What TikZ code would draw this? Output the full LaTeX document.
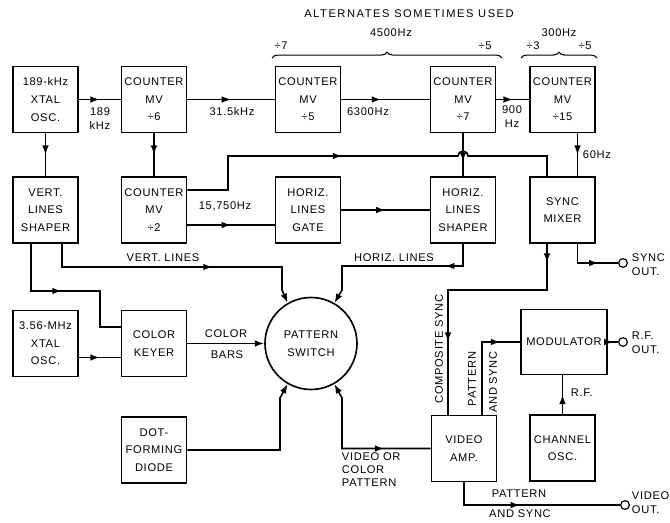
\documentclass[tikz,border=0pt]{standalone}
\usepackage{fontspec}
\setmainfont{Liberation Sans}[LetterSpace=6]
\usepackage{tikz}
\usetikzlibrary{arrows.meta,decorations.markings,decorations.pathreplacing,calc}

\begin{document}
\begin{tikzpicture}[
  x=0.03cm, y=-0.03cm, line width=1.4pt,
  every node/.style={font=\fontsize{9.5}{15}\selectfont},
  blk/.style={draw, minimum width=1.95cm, minimum height=1.98cm, align=center, inner sep=1pt},
  lbl/.style={align=center, inner sep=1pt, font=\fontsize{9.5}{12}\selectfont},
  jack/.style={draw, circle, inner sep=0pt, minimum size=2.6mm, line width=1pt},
  am/.style={postaction={decorate}, decoration={markings,
    mark=at position #1 with {\arrow{Latex[length=2.8mm,width=2mm]}}}},
  am/.default=0.5,
  amtwo/.style 2 args={postaction={decorate}, decoration={markings,
    mark=at position #1 with {\arrow{Latex[length=2.8mm,width=2mm]}},
    mark=at position #2 with {\arrow{Latex[length=2.8mm,width=2mm]}}}},
  into/.style={-{Latex[length=2.8mm,width=2mm]}},
  brc/.style={decorate, decoration={brace, amplitude=5pt}, line width=0.9pt}
]
\useasboundingbox (0,0) rectangle (670,522);
% ---- top row: oscillator and counters ----
\node[blk] (xtal1) at (45.5,99.5) {189-kHz\\XTAL\\OSC.};
\node[blk] (cnt6) at (154,99.5) {COUNTER\\MV\\÷6};
\node[blk] (cnt5) at (308,99.5) {COUNTER\\MV\\÷5};
\node[blk] (cnt7) at (463,99.5) {COUNTER\\MV\\÷7};
\node[blk] (cnt15) at (562.5,99.5) {COUNTER\\MV\\÷15};
% ---- second row ----
\node[blk] (vshape) at (45.5,210) {VERT.\\LINES\\SHAPER};
\node[blk] (cnt2) at (154,210) {COUNTER\\MV\\÷2};
\node[blk] (gate) at (308,210) {HORIZ.\\LINES\\GATE};
\node[blk] (hshape) at (463,210) {HORIZ.\\LINES\\SHAPER};
\node[blk] (smix) at (562.5,210) {SYNC\\MIXER};
% ---- pattern section ----
\node[blk] (xtal2) at (45.5,343.5) {3.56-MHz\\XTAL\\OSC.};
\node[blk] (ckey) at (154,343.5) {COLOR\\KEYER};
\node[draw, circle, minimum size=2.76cm, inner sep=0pt, align=center] (psw) at (311,343.5) {PATTERN\\SWITCH};
\node[blk] (dot) at (154,450) {DOT-\\FORMING\\DIODE};
% ---- output section ----
\node[blk, minimum width=2.58cm, minimum height=1.95cm] (mod) at (564,342) {MODULATOR};
\node[blk] (vamp) at (464,448.5) {VIDEO\\AMP.};
\node[blk] (chosc) at (562.5,448) {CHANNEL\\OSC.};
\node[jack] (syo) at (623,263) {};
\node[jack] (rfo) at (623,342) {};
\node[jack] (vdo) at (625,505) {};

% ---- alternates note ----
\node (alt) at (409,14) {\addfontfeature{LetterSpace=14}ALTERNATES SOMETIMES USED};
\node (f4500) at (391,33) {4500Hz};
\node (d7a) at (281,46) {÷7};
\node (d5a) at (485,46) {÷5};
\draw[brc] (272,58) -- (502,58);
\node (f300) at (559,33) {300Hz};
\node (d3b) at (533,46) {÷3};
\node (d5b) at (585,46) {÷5};
\draw[brc] (521,58) -- (597,58);

% ---- counter chain ----
\draw[am] (xtal1) -- (cnt6);
\node[lbl] (f189) at (100,119) {189\\kHz};
\draw[am] (cnt6) -- (cnt5);
\node[lbl] (f315) at (232,112) {31.5kHz};
\draw[am=0.45] (cnt5) -- (cnt7);
\node[lbl] (f6300) at (368,112) {6300Hz};
\draw[am] (cnt7) -- (cnt15);
\node[lbl] (f900) at (512,117) {900\\Hz};
\draw[am] ($(cnt15.south)+(15,0)$) -- ($(smix.north)+(15,0)$);
\node[lbl, anchor=west] (f60) at (581,155) {60Hz};
\draw[am] (xtal1) -- (vshape);
\draw[am] (cnt6) -- (cnt2);
\draw[am=0.45] ($(cnt2.east)+(0,-20)$) -| (228,156) -- (458,156)
  arc[start angle=180, end angle=0, radius=1.5mm] -| ($(smix.north)+(-15.5,0)$);
\draw[am=0.66] (cnt7) -- (hshape);
\draw[am] ($(cnt2.east)+(0,15)$) -- ($(gate.west)+(0,15)$);
\node[lbl] (f15750) at (225,206) {15,750Hz};
\draw[am] (gate) -- (hshape);

% ---- into the pattern switch ----
\draw[into, am=0.62] ($(vshape.south)+(16.5,0)$) |- (282,267) -- (282,290) -- (psw.120);
\node[lbl] (vlin) at (163,258) {VERT. LINES};
\draw[am=0.45] ($(vshape.south)+(-14.5,0)$) |- (100,291) |- ($(ckey.west)+(0,-16.5)$);
\draw[into, am=0.22] (hshape.south) |- (342,266) -- (342,290) -- (psw.60);
\node[lbl] (hlin) at (394,258) {HORIZ. LINES};
\draw[am] ($(xtal2.east)+(0,14)$) -- ($(ckey.west)+(0,14)$);
\draw[into] (ckey) -- (psw);
\node[lbl] (cbar1) at (226,334) {COLOR};
\node[lbl] (cbar2) at (227,355) {BARS};
\draw[into] (dot.east) -| (280,398) -- (psw.240);

% ---- video and sync outputs ----
\draw[{Latex[length=2.8mm,width=2mm]}-, am=0.7] (psw.300) -- (342,398) |- (vamp.west);
\node[lbl, anchor=north west, font=\fontsize{9.5}{11}\selectfont, align=left] (vcp) at (340,451) {VIDEO OR\\COLOR\\PATTERN};
\draw[amtwo={0.07}{0.73}] ($(smix.south)+(-15.5,0)$) |- (448,290) -- ($(vamp.north)+(-16,0)$);
\node[lbl, rotate=90] (csync) at (439,349) {COMPOSITE SYNC};
\draw[am=0.82] ($(vamp.north)+(18,0)$) |- (mod.west);
\node[lbl, rotate=90] (pas1) at (472,379) {PATTERN};
\node[lbl, rotate=90] (pas2) at (493,382) {AND SYNC};
\draw[am=0.55] (mod) -- (rfo);
\node[lbl, anchor=west, align=left] (rfout) at (630,343) {R.F.\\OUT.};
\draw[am] (chosc.north) -- (chosc.north |- mod.south);
\node[lbl, anchor=west] (rf) at (569,393) {R.F.};
\draw[am=0.67] ($(smix.south)+(15,0)$) |- (syo);
\node[lbl, anchor=west, align=left] (syout) at (630,265) {SYNC\\OUT.};
\draw[am=0.44] (vamp.south) |- (vdo);
\node[lbl] (pas3) at (519,494) {PATTERN};
\node[lbl] (pas4) at (520,514) {AND SYNC};
\node[lbl, anchor=west, align=left] (vdout) at (630,503) {VIDEO\\OUT.};
\end{tikzpicture}
\end{document}
